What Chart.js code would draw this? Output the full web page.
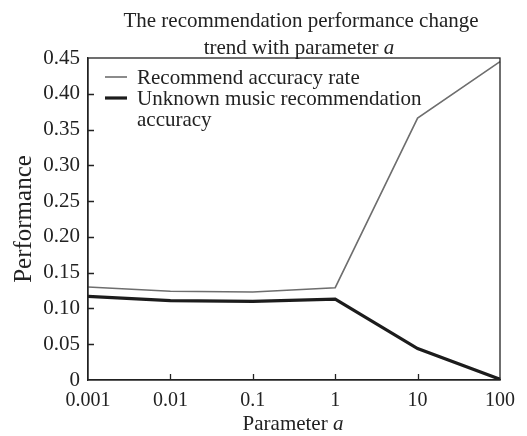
<!DOCTYPE html>
<html>
<head>
<meta charset="utf-8">
<script src="https://cdn.jsdelivr.net/npm/chart.js@4.4.0/dist/chart.umd.min.js"></script>
<style>
  html, body { margin: 0; padding: 0; background: #fff; }
  #wrap { width: 527px; height: 436px; }
</style>
</head>
<body>
<div id="wrap"><canvas id="chart1" width="527" height="436"></canvas></div>
<script>
// data
var categories = ["0.001", "0.01", "0.1", "1", "10", "100"];
var recommendAccuracy = [0.130, 0.124, 0.123, 0.129, 0.366, 0.445];
var unknownMusicAccuracy = [0.117, 0.111, 0.110, 0.113, 0.044, 0.001];
var yTicks = [0, 0.05, 0.10, 0.15, 0.20, 0.25, 0.30, 0.35, 0.40, 0.45];

var FONT = "'Liberation Serif', 'Times New Roman', serif";
var INK = "#222";

// title, box, inner ticks, x axis title and legend drawn by hand
var decorPlugin = {
    id: "decor",
    afterDraw: function (chart) {
        var ctx = chart.ctx, a = chart.chartArea;
        var xs = chart.scales.x, ys = chart.scales.y;
        ctx.save();
        // box
        ctx.strokeStyle = INK;
        ctx.lineWidth = 1.3;
        ctx.strokeRect(a.left, a.top, a.right - a.left, a.bottom - a.top);
        // inward ticks
        ctx.beginPath();
        xs.ticks.forEach(function (t, i) {
            if (i == 0 || i == xs.ticks.length - 1) return;
            var px = Math.round(xs.getPixelForTick(i)) + 0.5;
            ctx.moveTo(px, a.bottom);
            ctx.lineTo(px, a.bottom - 6);
        });
        ys.ticks.forEach(function (t, i) {
            if (i == 0 || i == ys.ticks.length - 1) return;
            var py = Math.round(ys.getPixelForTick(i)) + 0.5;
            ctx.moveTo(a.left, py);
            ctx.lineTo(a.left + 6, py);
        });
        ctx.stroke();

        ctx.fillStyle = INK;
        ctx.textBaseline = "alphabetic";
        // title
        ctx.font = "21px " + FONT;
        ctx.textAlign = "center";
        ctx.fillText("The recommendation performance change", 301, 27);
        drawMixed(ctx, "trend with parameter ", "a", 299, 54, 21);
        // x axis title
        drawMixed(ctx, "Parameter ", "a", 293, 430, 21);

        // legend
        ctx.textAlign = "left";
        ctx.textBaseline = "middle";
        ctx.font = "21px " + FONT;
        var y = 78;
        chart.data.datasets.forEach(function (ds) {
            ctx.strokeStyle = ds.borderColor;
            ctx.lineWidth = ds.borderWidth;
            ctx.beginPath();
            ctx.moveTo(105, y - 1);
            ctx.lineTo(127, y - 1);
            ctx.stroke();
            var lines = wrap(ctx, ds.label, 320);
            lines.forEach(function (ln, k) {
                ctx.fillStyle = INK;
                ctx.fillText(ln, 137, y + k * 21);
            });
            y += lines.length * 21;
        });
        ctx.restore();
    }
};

function drawMixed(ctx, plain, ital, cx, by, size) {
    ctx.font = size + "px " + FONT;
    var w1 = ctx.measureText(plain).width;
    ctx.font = "italic " + size + "px " + FONT;
    var w2 = ctx.measureText(ital).width;
    var x0 = cx - (w1 + w2) / 2;
    ctx.textAlign = "left";
    ctx.font = size + "px " + FONT;
    ctx.fillText(plain, x0, by);
    ctx.font = "italic " + size + "px " + FONT;
    ctx.fillText(ital, x0 + w1, by);
    ctx.textAlign = "center";
}

function wrap(ctx, text, maxW) {
    var words = text.split(" "), out = [], cur = "";
    words.forEach(function (w) {
        var t = cur ? cur + " " + w : w;
        if (ctx.measureText(t).width > maxW && cur) { out.push(cur); cur = w; }
        else cur = t;
    });
    out.push(cur);
    return out;
}

function ShowChart1() {
    var ctx_chart1 = document.getElementById("chart1").getContext("2d");
    new Chart(ctx_chart1, {
        type: "line",
        data: {
            labels: categories,
            datasets: [{
                    label: "Recommend accuracy rate",
                    data: recommendAccuracy,
                    borderColor: "#6e6e6e",
                    borderWidth: 1.6,
                    pointRadius: 0,
                    tension: 0,
                    fill: false
                },
                {
                    label: "Unknown music recommendation accuracy",
                    data: unknownMusicAccuracy,
                    borderColor: "#1c1c1c",
                    borderWidth: 3.2,
                    pointRadius: 0,
                    tension: 0,
                    fill: false
                }
            ]
        },
        options: {
            responsive: false,
            animation: false,
            layout: { padding: { top: 58, right: 27, left: 0, bottom: 0 } },
            plugins: {
                legend: { display: false },
                title: { display: false },
                tooltip: { enabled: false }
            },
            scales: {
                x: {
                    offset: false,
                    grid: { drawOnChartArea: false, drawTicks: false },
                    border: { display: true, color: INK, width: 1.3 },
                    ticks: { color: INK, padding: 9, maxRotation: 0, font: { family: FONT, size: 20 } },
                    afterFit: function (scale) { scale.height = 56; }
                },
                y: {
                    min: 0,
                    max: 0.45,
                    grid: { drawOnChartArea: false, drawTicks: false },
                    border: { display: true, color: INK, width: 1.3 },
                    afterBuildTicks: function (scale) {
                        scale.ticks = yTicks.map(function (v) { return { value: v }; });
                    },
                    ticks: {
                        color: INK,
                        padding: 8,
                        font: { family: FONT, size: 21 },
                        callback: function (v) { return v === 0 ? "0" : v.toFixed(2); }
                    },
                    title: {
                        display: true,
                        text: "Performance",
                        color: INK,
                        padding: { top: 9, bottom: 0 },
                        font: { family: FONT, size: 25 }
                    },
                    afterFit: function (scale) { scale.width = 88; }
                }
            }
        },
        plugins: [decorPlugin]
    });
}

ShowChart1();
</script>
</body>
</html>
